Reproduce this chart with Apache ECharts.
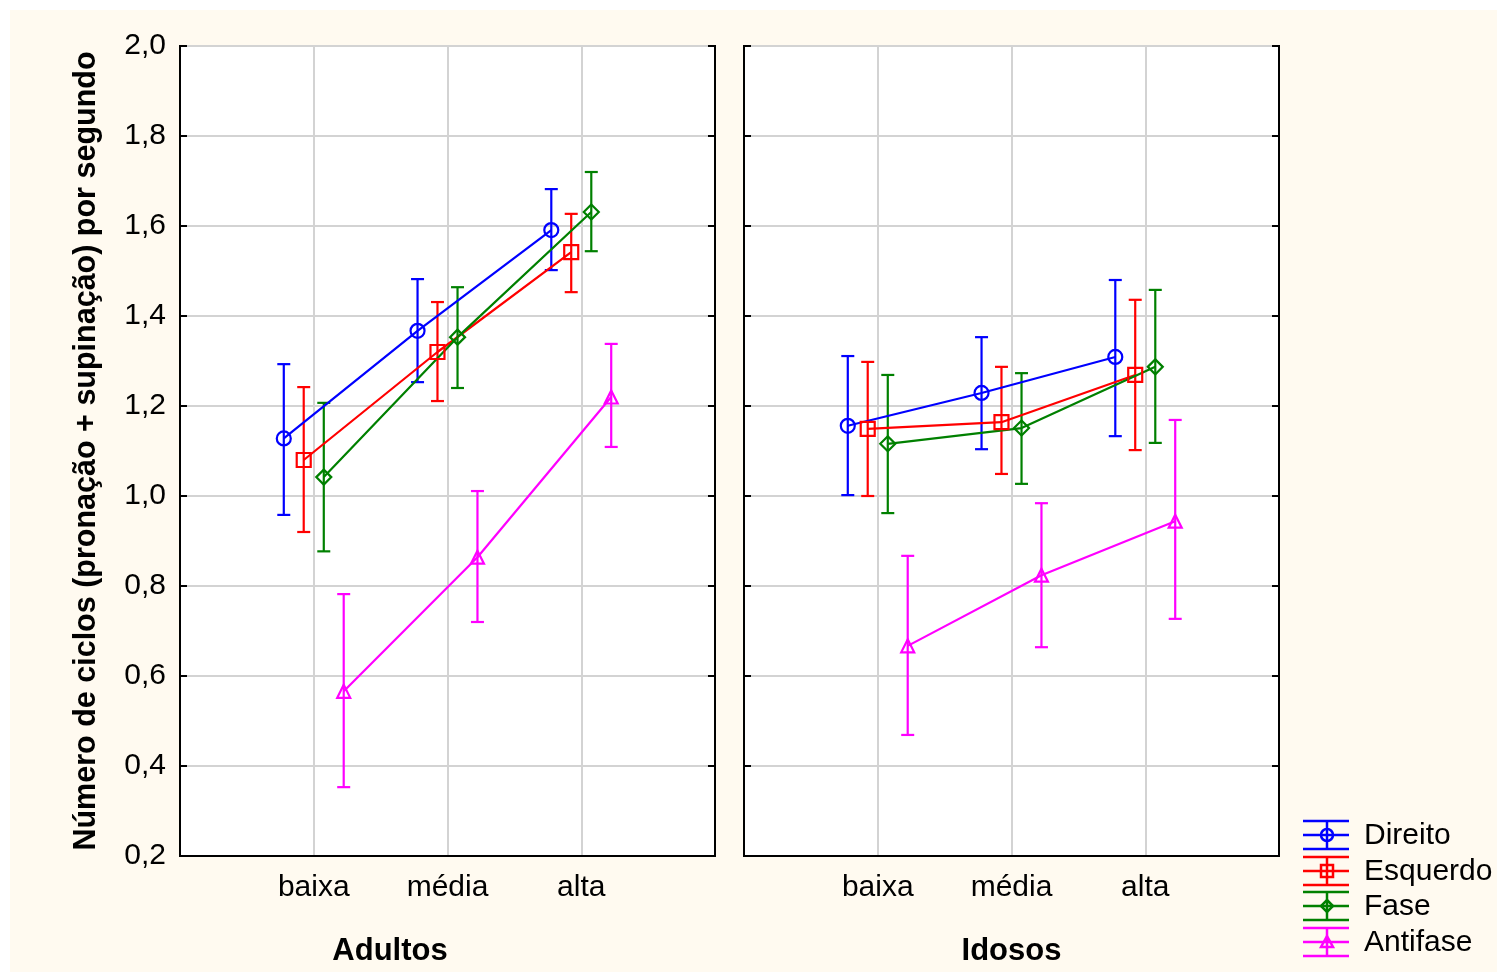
<!DOCTYPE html>
<html>
<head>
<meta charset="utf-8">
<script src="https://cdn.jsdelivr.net/npm/echarts@6/dist/echarts.min.js"></script>
<style>
  html, body { margin: 0; padding: 0; background: #fff; }
  #main { width: 1497px; height: 972px; background: #fffaf0; box-shadow: inset 10px 10px 0 #fff; }
</style>
</head>
<body>
<div id="main"></div>
<script>
// categorias e grupos
var categories = ['baixa', 'média', 'alta'];
var groups = ['Adultos', 'Idosos'];
var seriesNames = ['Direito', 'Esquerdo', 'Fase', 'Antifase'];
var colors = ['#0000ff', '#ff0000', '#008000', '#ff00ff'];
var symbols = ['circle', 'rect', 'diamond', 'triangle'];
var yTicks = [0.2, 0.4, 0.6, 0.8, 1.0, 1.2, 1.4, 1.6, 1.8, 2.0];

// Adultos: media, limite inferior e superior
var adultosDireito = [1.128, 1.367, 1.591];
var adultosDireitoLo = [0.958, 1.253, 1.502];
var adultosDireitoHi = [1.293, 1.482, 1.682];
var adultosEsquerdo = [1.080, 1.320, 1.542];
var adultosEsquerdoLo = [0.920, 1.211, 1.453];
var adultosEsquerdoHi = [1.242, 1.431, 1.627];
var adultosFase = [1.042, 1.353, 1.631];
var adultosFaseLo = [0.877, 1.240, 1.544];
var adultosFaseHi = [1.207, 1.464, 1.720];
var adultosAntifase = [0.566, 0.864, 1.220];
var adultosAntifaseLo = [0.353, 0.720, 1.109];
var adultosAntifaseHi = [0.782, 1.011, 1.338];

// Idosos
var idososDireito = [1.156, 1.229, 1.309];
var idososDireitoLo = [1.002, 1.104, 1.133];
var idososDireitoHi = [1.311, 1.353, 1.480];
var idososEsquerdo = [1.149, 1.164, 1.269];
var idososEsquerdoLo = [1.000, 1.049, 1.102];
var idososEsquerdoHi = [1.298, 1.287, 1.436];
var idososFase = [1.116, 1.151, 1.287];
var idososFaseLo = [0.962, 1.027, 1.118];
var idososFaseHi = [1.269, 1.273, 1.458];
var idososAntifase = [0.667, 0.824, 0.944];
var idososAntifaseLo = [0.469, 0.664, 0.727];
var idososAntifaseHi = [0.867, 0.984, 1.169];

var means = [
  [adultosDireito, adultosEsquerdo, adultosFase, adultosAntifase],
  [idososDireito, idososEsquerdo, idososFase, idososAntifase]
];
var lows = [
  [adultosDireitoLo, adultosEsquerdoLo, adultosFaseLo, adultosAntifaseLo],
  [idososDireitoLo, idososEsquerdoLo, idososFaseLo, idososAntifaseLo]
];
var highs = [
  [adultosDireitoHi, adultosEsquerdoHi, adultosFaseHi, adultosAntifaseHi],
  [idososDireitoHi, idososEsquerdoHi, idososFaseHi, idososAntifaseHi]
];

var offsets = [-0.224, -0.075, 0.075, 0.224];
var font = 'Liberation Sans, Arial, sans-serif';
var fmt = function (v) { return v.toFixed(1).replace('.', ','); };

var chart = echarts.init(document.getElementById('main'), null, { renderer: 'canvas' });

var grids = [], xAxes = [], yAxes = [], series = [];
var lefts = [180, 744];
for (var g = 0; g < 2; g++) {
  grids.push({
    left: lefts[g], top: 46, width: 535, height: 810,
    show: true, backgroundColor: '#fff', borderColor: '#000', borderWidth: 2
  });
  xAxes.push({
    type: 'value', gridIndex: g, min: 0, max: 4, interval: 1,
    axisLine: { show: true, lineStyle: { color: '#000', width: 2 } },
    axisTick: { show: false },
    splitLine: { show: true, lineStyle: { color: '#d3d3d3', width: 2 } },
    axisLabel: {
      fontFamily: font, fontSize: 30, color: '#000', margin: 17,
      formatter: function (v) { return categories[v - 1] || ''; }
    },
    name: groups[g], nameLocation: 'middle', nameGap: 80,
    nameTextStyle: {
      fontFamily: font, fontSize: 31, fontWeight: 'bold', color: '#000',
      padding: g === 0 ? [0, 115, 0, 0] : [0, 0, 0, 0]
    }
  });
  yAxes.push({
    type: 'value', gridIndex: g, position: 'left', min: 0.2, max: 2.0, interval: 0.2,
    axisLine: { show: true, lineStyle: { color: '#000', width: 2 } },
    axisTick: { show: true, inside: true, length: 7, lineStyle: { color: '#000', width: 2 } },
    splitLine: { show: true, lineStyle: { color: '#d3d3d3', width: 2 } },
    axisLabel: { show: g === 0, fontFamily: font, fontSize: 30, color: '#000', margin: 14, formatter: fmt },
    name: g === 0 ? 'Número de ciclos (pronação + supinação) por segundo' : '',
    nameLocation: 'middle', nameGap: 78, nameRotate: 90,
    nameTextStyle: { fontFamily: font, fontSize: 30.5, fontWeight: 'bold', color: '#000' }
  });
  yAxes.push({
    type: 'value', gridIndex: g, position: 'right', min: 0.2, max: 2.0, interval: 0.2,
    axisLine: { show: true, lineStyle: { color: '#000', width: 2 } },
    axisTick: { show: true, inside: true, length: 7, lineStyle: { color: '#000', width: 2 } },
    splitLine: { show: false },
    axisLabel: { show: false }
  });

  for (var s = 0; s < 4; s++) {
    var pts = [], bars = [];
    for (var c = 0; c < categories.length; c++) {
      var x = c + 1 + offsets[s];
      pts.push([x, means[g][s][c]]);
      bars.push([x, lows[g][s][c], highs[g][s][c]]);
    }
    series.push({
      type: 'custom', name: seriesNames[s], xAxisIndex: g, yAxisIndex: g * 2,
      z: 2, silent: true,
      encode: { x: 0, y: [1, 2] },
      data: bars,
      renderItem: (function (col) {
        return function (params, api) {
          var top = api.coord([api.value(0), api.value(2)]);
          var bot = api.coord([api.value(0), api.value(1)]);
          var hw = 6.5;
          var st = { stroke: col, lineWidth: 2.2 };
          return {
            type: 'group',
            children: [
              { type: 'line', shape: { x1: top[0], y1: top[1], x2: bot[0], y2: bot[1] }, style: st },
              { type: 'line', shape: { x1: top[0] - hw, y1: top[1], x2: top[0] + hw, y2: top[1] }, style: st },
              { type: 'line', shape: { x1: bot[0] - hw, y1: bot[1], x2: bot[0] + hw, y2: bot[1] }, style: st }
            ]
          };
        };
      })(colors[s])
    });
    series.push({
      type: 'line', name: seriesNames[s], xAxisIndex: g, yAxisIndex: g * 2,
      z: 3, silent: true, animation: false,
      data: pts,
      symbol: symbols[s],
      symbolSize: s === 3 ? 13 : (s === 2 ? 15 : 14),
      lineStyle: { color: colors[s], width: 2.2 },
      itemStyle: { color: 'rgba(0,0,0,0)', borderColor: colors[s], borderWidth: 2.2 }
    });
  }
}

// legenda desenhada à mão (estilo Statistica)
var legend = [];
var legTop = [821, 857, 892, 928];
for (var i = 0; i < 4; i++) {
  var y0 = legTop[i], col = colors[i], st = { stroke: col, lineWidth: 2.5, fill: null };
  [0, 14, 28].forEach(function (d) {
    legend.push({ type: 'line', shape: { x1: 1303, y1: y0 + d, x2: 1349, y2: y0 + d }, style: st });
  });
  legend.push({ type: 'line', shape: { x1: 1327, y1: y0, x2: 1327, y2: y0 + 28 }, style: st });
  var cy = y0 + 14;
  if (i === 0) legend.push({ type: 'circle', shape: { cx: 1327, cy: cy, r: 6 }, style: st });
  if (i === 1) legend.push({ type: 'rect', shape: { x: 1321, y: cy - 6, width: 12, height: 12 }, style: st });
  if (i === 2) legend.push({ type: 'polygon', shape: { points: [[1327, cy - 6], [1333, cy], [1327, cy + 6], [1321, cy]] }, style: st });
  if (i === 3) legend.push({ type: 'polygon', shape: { points: [[1327, cy - 6], [1333, cy + 5], [1321, cy + 5]] }, style: st });
  legend.push({
    type: 'text', x: 1364, y: cy + 1,
    style: { text: seriesNames[i], fontFamily: font, fontSize: 30, fill: '#000', verticalAlign: 'middle' }
  });
}

chart.setOption({
  backgroundColor: 'transparent',
  animation: false,
  grid: grids,
  xAxis: xAxes,
  yAxis: yAxes,
  series: series,
  graphic: legend
});
</script>
</body>
</html>
